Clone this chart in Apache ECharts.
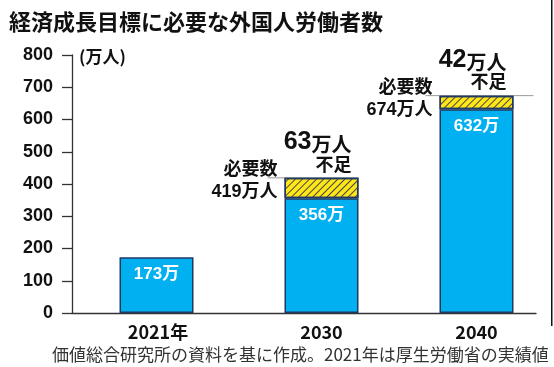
<!DOCTYPE html>
<html><head><meta charset="utf-8">
<script src="https://cdn.jsdelivr.net/npm/echarts@6/dist/echarts.min.js"></script>
<style>html,body{margin:0;padding:0;background:#fff}#c{width:554px;height:367px}</style>
</head><body><div id="c"></div>
<script>
// ---- data ----
const categories = ['2021年', '2030', '2040'];
const actual = [173, '-', '-'];      // 2021 actual (万人)
const supply = ['-', 356, 632];      // projected supply (万人)
const shortage = ['-', 63, 42];      // shortfall (万人)
const yMin = 0, yMax = 800, yStep = 100;

const titleText = '経済成長目標に必要な外国人労働者数';
const unitText = '(万人)';
const footText = '価値総合研究所の資料を基に作成。2021年は厚生労働省の実績値';

// ---- styles ----
const CJK = "'Noto Sans CJK JP'";
const MIX = "'Liberation Sans','Noto Sans CJK JP'";
const BAR_W = 74, BAR_SHIFT = 5;
const blue = { color: '#00B0F0', borderColor: '#1F3864', borderWidth: 1.5 };
const inLabel = { show: true, position: 'insideTop', distance: 9, formatter: '{c}万',
  color: '#fff', fontSize: 17, fontWeight: 'bold', fontFamily: MIX };
const lineExt = { 1: [17, 0], 2: [14, 20] };

const needData = [];
categories.forEach((c, i) => {
  if (typeof shortage[i] === 'number') needData.push([i, supply[i] + shortage[i], shortage[i]]);
});

function renderNeed(params, api) {
  const i = api.value(0), total = api.value(1), sh = api.value(2);
  const p = api.coord([i, total]);
  const cx = p[0] + BAR_SHIFT, y = p[1];
  const L = cx - BAR_W / 2, R = cx + BAR_W / 2;
  const ext = lineExt[i] || [15, 10];
  const txt = (text, x, yy, extra) => Object.assign({
    text, x, y: yy, align: 'right', textAlign: 'right', verticalAlign: 'middle', textVerticalAlign: 'middle',
    fontSize: 18, fontWeight: 'bold', fontFamily: MIX, fill: '#111'
  }, extra || {});
  return { type: 'group', children: [
    { type: 'line', shape: { x1: L - ext[0], y1: y, x2: R + ext[1], y2: y }, style: { stroke: '#9a9a9a', lineWidth: 1 } },
    { type: 'text', style: txt('必要数\n' + total + '万人', L - 7, y + 3, { lineHeight: 22 }) },
    { type: 'text', style: txt('{n|' + sh + '}{u|万人}', R - 7, y - 36, { rich: {
      n: { fontSize: 25, fontWeight: 'bold', fontFamily: "'Liberation Sans'", fill: '#111', verticalAlign: 'bottom', lineHeight: 26 },
      u: { fontSize: 20, fontWeight: 'bold', fontFamily: CJK, fill: '#111', verticalAlign: 'bottom', lineHeight: 26 } } }) },
    { type: 'text', style: txt('不足', R - 7, y - 14, { fontFamily: CJK }) }
  ] };
}

const chart = echarts.init(document.getElementById('c'), null, { renderer: 'canvas' });
chart.setOption({
  backgroundColor: '#fff',
  animation: false,
  title: [
    { text: titleText, left: 9, top: 11, padding: 0,
      textStyle: { fontFamily: CJK, fontWeight: 'bold', fontSize: 22, color: '#111' } },
    { text: unitText, left: 79, top: 48, padding: 0,
      textStyle: { fontFamily: CJK, fontWeight: 'bold', fontSize: 17, color: '#111' } },
    { text: footText, left: 52, top: 346, padding: 0,
      textStyle: { fontFamily: CJK, fontWeight: 'normal', fontSize: 17, color: '#333' } }
  ],
  graphic: [{ type: 'rect', shape: { x: 551, y: 0, width: 1.5, height: 326 }, style: { fill: '#111' }, silent: true }],
  grid: [
    { left: 72, right: 18, top: 55, bottom: 54 },
    { left: 84, right: 5, top: 55, bottom: 54 }
  ],
  xAxis: [
    { type: 'category', gridIndex: 0, data: categories.map(() => ''), boundaryGap: true,
      axisLine: { lineStyle: { color: '#333', width: 1.3 } },
      axisTick: { inside: true, length: 5, lineStyle: { color: '#333', width: 1.3 } },
      axisLabel: { show: false } },
    { type: 'category', gridIndex: 1, data: categories,
      axisLine: { show: false }, axisTick: { show: false },
      axisLabel: { margin: 10, fontSize: 18, fontWeight: 'bold', fontFamily: CJK, color: '#111',
        formatter: (v, i) => (i === 0 ? '{a|' : '{b|') + v + '}',
        rich: {
          a: { fontSize: 18, fontWeight: 'bold', fontFamily: CJK, color: '#111', padding: [0, 7, 0, 0] },
          b: { fontSize: 18, fontWeight: 'bold', fontFamily: CJK, color: '#111', padding: [0, 0, 0, 10] }
        } } }
  ],
  yAxis: [
    { type: 'value', gridIndex: 0, min: yMin, max: yMax, interval: yStep,
      axisLine: { show: true, lineStyle: { color: '#333', width: 1.3 } },
      axisTick: { show: true, length: 10, lineStyle: { color: '#333', width: 1.3 } },
      splitLine: { show: false },
      axisLabel: { margin: 19, fontSize: 18, fontWeight: 'bold', fontFamily: "'Liberation Sans'", color: '#111' } },
    { type: 'value', gridIndex: 1, min: yMin, max: yMax, interval: yStep, show: false }
  ],
  series: [
    { type: 'custom', name: '必要数', xAxisIndex: 1, yAxisIndex: 1, data: needData, renderItem: renderNeed, clip: false, z: 1 },
    { type: 'bar', name: '実績', xAxisIndex: 1, yAxisIndex: 1, data: actual, barWidth: BAR_W, barGap: '-86.5%',
      itemStyle: blue, label: inLabel, z: 3 },
    { type: 'bar', name: '供給', xAxisIndex: 1, yAxisIndex: 1, data: supply, stack: 'n', barWidth: BAR_W, barGap: '-86.5%',
      itemStyle: blue, label: inLabel, z: 3 },
    { type: 'bar', name: '不足', xAxisIndex: 1, yAxisIndex: 1, data: shortage, stack: 'n', barWidth: BAR_W, barGap: '-86.5%',
      itemStyle: { color: '#FFE619', borderColor: '#1F3864', borderWidth: 1.5,
        decal: { symbol: 'rect', symbolSize: 1, dashArrayX: [1, 0], dashArrayY: [1, 3.3], rotation: -Math.PI / 4, color: '#444' } },
      label: { show: false }, z: 3 }
  ]
});
</script></body></html>
